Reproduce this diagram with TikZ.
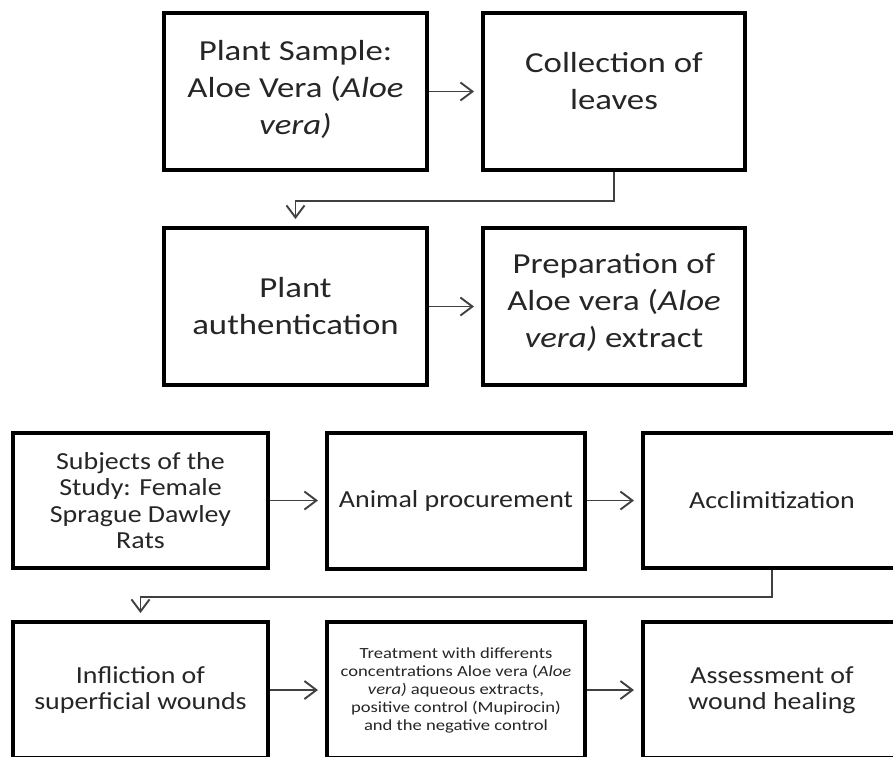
\documentclass[tikz,border=0pt]{standalone}
\usepackage{fontspec}
\setmainfont{Carlito}
\newfontfamily\bigfam[FakeStretch=1.2]{Carlito}
\newfontfamily\midfam[FakeStretch=1.14]{Carlito}
\newfontfamily\smallfam[FakeStretch=1.2]{Carlito}
\usetikzlibrary{arrows.meta}
\begin{document}
\begin{tikzpicture}[x=1pt,y=-1pt,
  box/.style={draw=black, line width=4pt, fill=white, align=center, inner sep=0pt, text=black!85},
  bigtxt/.style={font=\bigfam\fontsize{29}{37}\selectfont},
  midtxt/.style={font=\midfam\fontsize{24.5}{26.5}\selectfont},
  smalltxt/.style={font=\smallfam\fontsize{15.5}{18}\selectfont},
  conn/.style={draw=black!75, line width=1.9pt, -{Straight Barb[length=12pt,width=18pt]}, shorten >=7pt},
]
\path[use as bounding box] (0,0) rectangle (893,756);
\clip (0,0) rectangle (893,756);
\fill[white] (0,0) rectangle (893,756);

% top section
\node[box, bigtxt, minimum width=263pt, minimum height=157pt] (b1) at (295.5,91.5) {Plant Sample:\\Aloe Vera (\textit{Aloe}\\\textit{vera)}\\[-28pt]};
\node[box, bigtxt, minimum width=262pt, minimum height=157pt] (b2) at (614,91.5) {Collection of\\leaves\\[-15pt]};
\node[box, bigtxt, minimum width=263pt, minimum height=157pt] (b3) at (295.5,306.5) {Plant\\authentication};
\node[box, bigtxt, minimum width=262pt, minimum height=157pt] (b4) at (614,306.5) {Preparation of\\Aloe vera (\textit{Aloe}\\\textit{vera)} extract\\[-24pt]};

\draw[conn] (b1.east) -- (b2.west);
\draw[conn] (b2.south) -- ++(0,29) -| (b3.north);
\draw[conn] (b3.east) -- (b4.west);

% bottom section
\node[box, midtxt, minimum width=255pt, minimum height=135pt] (b5) at (140.5,500.5) {Subjects of the\\Study: Female\\Sprague Dawley\\Rats};
\node[box, midtxt, minimum width=258pt, minimum height=136pt] (b6) at (456,500.5) {Animal procurement};
\node[box, midtxt, minimum width=258pt, minimum height=135pt] (b7) at (772,500.5) {Acclimitization};

\node[box, midtxt, minimum width=255pt, minimum height=136pt] (b8) at (140.5,690) {Infliction of\\superficial wounds};
\node[box, smalltxt, minimum width=258pt, minimum height=136pt] (b9) at (456,690) {Treatment with differents\\concentrations Aloe vera (\textit{Aloe}\\\textit{vera)} aqueous extracts,\\positive control (Mupirocin)\\and the negative control};
\node[box, midtxt, minimum width=258pt, minimum height=136pt] (b10) at (772,690) {Assessment of\\wound healing};

\draw[conn] (b5.east) -- (b6.west);
\draw[conn] (b6.east) -- (b7.west);
\draw[conn] (b7.south) -- ++(0,27) -| (b8.north);
\draw[conn] (b8.east) -- (b9.west);
\draw[conn] (b9.east) -- (b10.west);
\end{tikzpicture}
\end{document}
